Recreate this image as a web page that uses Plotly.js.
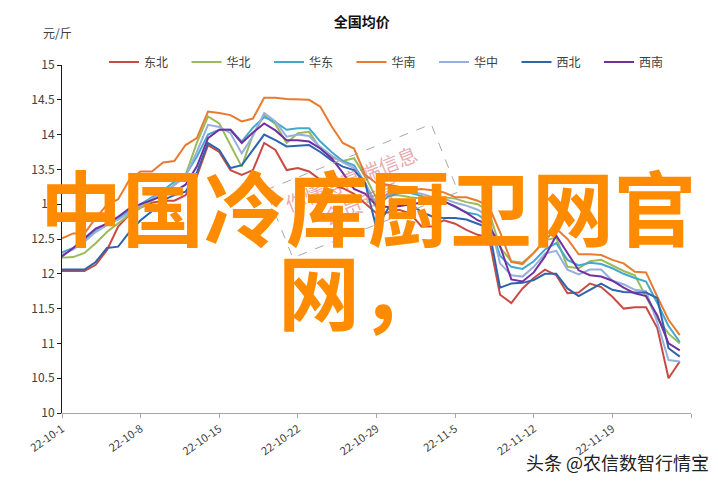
<!DOCTYPE html>
<html><head><meta charset="utf-8">
<script src="https://cdn.plot.ly/plotly-3.0.1.min.js"></script>
<style>html,body{margin:0;padding:0;background:#fff}#chart{width:718px;height:482px}</style>
</head><body><div id="chart"></div>
<script>
// ---- data ----
const startDate = '2022-10-01';
const dayCount = 56;
const tickDates = ['2022-10-01','2022-10-08','2022-10-15','2022-10-22','2022-10-29','2022-11-05','2022-11-12','2022-11-19','2022-11-26'];
const tickLabels = ['22-10-1','22-10-8','22-10-15','22-10-22','22-10-29','22-11-5','22-11-12','22-11-19',''];
const seriesNames = ['东北','华北','华东','华南','华中','西北','西南'];

const dongbei = [12.04,12.04,12.04,12.13,12.34,12.68,12.85,12.95,13.02,13.05,
 13.05,13.13,13.40,13.85,13.75,13.49,13.42,13.49,13.88,13.78,
 13.49,13.52,13.47,13.35,13.28,13.23,13.15,13.01,12.87,12.88,
 12.92,12.87,12.68,12.68,12.77,12.72,12.63,12.56,12.52,11.70,
 11.58,11.79,11.94,12.06,11.98,11.72,11.73,11.86,11.81,11.67,
 11.50,11.52,11.52,11.22,10.50,10.74];
const huabei = [12.23,12.24,12.30,12.44,12.60,12.72,12.85,12.95,13.05,13.15,
 13.28,13.42,13.88,14.26,14.16,13.85,13.54,14.00,14.28,14.15,
 13.88,14.02,14.04,13.80,13.67,13.62,13.66,13.40,13.08,13.13,
 13.13,13.10,13.08,13.06,13.10,13.08,13.03,13.00,12.90,12.38,
 12.18,12.16,12.30,12.48,12.52,12.10,12.08,12.18,12.20,12.12,
 12.04,11.98,11.68,11.36,11.14,11.00];
const huadong = [12.31,12.37,12.49,12.63,12.72,12.80,12.90,13.00,13.10,13.20,
 13.32,13.42,13.68,14.00,14.07,14.07,13.90,14.10,14.25,14.18,
 14.07,14.09,14.09,13.90,13.75,13.62,13.56,13.30,12.95,13.11,
 13.16,13.16,13.12,13.04,13.04,12.96,12.88,12.85,12.75,12.26,
 12.10,12.07,12.18,12.35,12.44,12.20,12.12,12.16,12.14,12.08,
 12.00,11.94,11.89,11.58,11.25,11.02];
const huanan = [12.51,12.58,12.58,12.80,12.99,13.07,13.35,13.47,13.47,13.60,
 13.62,13.85,13.95,14.33,14.31,14.28,14.19,14.23,14.53,14.53,
 14.51,14.51,14.50,14.40,14.12,13.88,13.80,13.42,13.30,13.28,
 13.25,13.20,13.22,13.20,13.17,13.10,13.10,13.05,12.97,12.60,
 12.17,12.14,12.30,12.48,12.65,12.50,12.28,12.28,12.27,12.20,
 12.15,12.03,12.02,11.67,11.34,11.12];
const huazhong = [12.28,12.35,12.46,12.60,12.70,12.78,12.88,12.98,13.08,13.15,
 13.28,13.40,13.75,14.14,14.11,14.02,13.73,13.98,14.31,14.19,
 13.97,14.00,13.98,13.82,13.70,13.60,13.52,13.30,13.00,13.15,
 13.18,13.18,13.15,13.10,13.08,13.02,12.98,12.92,12.82,12.15,
 11.98,11.96,12.10,12.29,12.33,12.06,11.99,12.06,12.06,11.90,
 11.85,11.77,11.75,11.30,10.76,10.74];
const xibei = [12.06,12.06,12.06,12.17,12.37,12.39,12.60,12.77,12.90,13.06,
 13.13,13.18,13.45,13.88,13.78,13.52,13.56,13.78,14.00,13.92,
 13.83,13.84,13.85,13.75,13.63,13.54,13.49,13.30,12.65,12.93,
 12.99,13.00,12.89,12.82,12.80,12.80,12.78,12.72,12.66,11.80,
 11.86,11.87,11.91,12.00,12.00,11.79,11.68,11.77,11.86,11.77,
 11.74,11.73,11.73,11.65,10.93,10.81];
const xinan = [12.25,12.37,12.51,12.65,12.72,12.82,12.94,13.00,13.06,13.11,
 13.18,13.28,13.54,13.95,14.07,14.07,13.88,14.03,14.16,14.06,
 13.92,13.92,13.90,13.80,13.66,13.45,13.22,13.15,12.98,12.96,
 12.97,13.00,13.02,13.07,13.04,12.97,12.88,12.77,12.70,12.40,
 11.92,11.89,12.02,12.25,12.55,12.30,12.05,11.98,11.96,11.90,
 11.80,11.72,11.68,11.40,11.00,10.90];

// ---- styling ----
const colors = ['#C94A45','#9BBB59','#43A9CC','#E97B30','#97AFDD','#2E64AE','#7030A0'];
const seriesValues = [dongbei, huabei, huadong, huanan, huazhong, xibei, xinan];

// dates for the x categories
const dates = [];
(function(){
  const d0 = new Date(startDate + 'T00:00:00Z');
  for (let i = 0; i < dayCount; i++) {
    const d = new Date(d0.getTime() + i * 86400000);
    dates.push(d.toISOString().slice(0,10));
  }
})();

const traces = seriesNames.map((name, i) => ({
  type: 'scatter', mode: 'lines', name: name,
  x: dates, y: seriesValues[i],
  line: {color: colors[i], width: 2},
  hoverinfo: 'skip'
}));

const W = 718, H = 482;
const M = {l: 62, r: 27, t: 65, b: 69, autoexpand: false};
const PW = W - M.l - M.r, PH = H - M.t - M.b;
function px(x){ return (x - M.l) / PW; }
function py(y){ return (H - M.b - y) / PH; }

// dashed watermark stamp box (decoration)
function stampPath(cx, cy, w, h, deg){
  const a = deg * Math.PI / 180, c = Math.cos(a), s = Math.sin(a);
  const pts = [[-w/2,-h/2],[w/2,-h/2],[w/2,h/2],[-w/2,h/2]].map(([u,v]) => [cx + u*c - v*s, cy + u*s + v*c]);
  return 'M ' + pts.map(p => px(p[0]).toFixed(4) + ' ' + py(p[1]).toFixed(4)).join(' L ') + ' Z';
}

const layout = {
  width: W, height: H,
  margin: M,
  paper_bgcolor: '#fff', plot_bgcolor: '#fff',
  font: {family: '"Noto Sans CJK SC", "Noto Sans", sans-serif', size: 12, color: '#404040'},
  title: {text: '<b>全国均价</b>', font: {size: 14, color: '#111'}, x: 0.504, xanchor: 'center', xref: 'container', y: 1 - 22/H, yanchor: 'middle', yref: 'container'},
  showlegend: true,
  legend: {orientation: 'h', xref: 'container', x: 104/W, xanchor: 'left', yref: 'container', y: 1 - 62/H, yanchor: 'middle',
           entrywidth: 37.5, entrywidthmode: 'pixels', itemwidth: 30,
           font: {size: 12, color: '#404040'}, bgcolor: 'rgba(0,0,0,0)', traceorder: 'normal'},
  xaxis: {type: 'date', range: [dates[0], '2022-11-26'], tickmode: 'array', tickvals: tickDates, ticktext: tickLabels,
          tickangle: -35, showgrid: false, zeroline: false, showline: true, linecolor: '#A6A6A6', linewidth: 1.2,
          ticks: 'outside', ticklen: 4, tickcolor: '#A6A6A6', tickfont: {size: 11, color: '#404040'}, fixedrange: true},
  yaxis: {range: [10, 15], dtick: 0.5, tick0: 10, showgrid: false, zeroline: false, showline: true, linecolor: '#1a1a1a', linewidth: 1,
          ticks: 'outside', ticklen: 4, tickcolor: '#1a1a1a', tickfont: {size: 12, color: '#404040'}, fixedrange: true},
  shapes: [
    {type: 'path', xref: 'paper', yref: 'paper', path: stampPath(362, 191, 178, 73, -21.7),
     line: {color: '#A8A8A8', width: 1, dash: 'dash'}, layer: 'above'}
  ],
  annotations: [
    {text: '元/斤', xref: 'paper', yref: 'paper', x: px(57), y: py(33), xanchor: 'center', yanchor: 'middle', showarrow: false, font: {size: 12, color: '#404040'}},
    {text: '你懂得高端信息<br>会员专享', xref: 'paper', yref: 'paper', x: px(356), y: py(190), xanchor: 'center', yanchor: 'middle', showarrow: false, textangle: -22,
     font: {size: 20, color: 'rgba(215,95,105,0.55)'}},
    {text: '<b>中国冷库厨卫网官</b>', xref: 'paper', yref: 'paper', x: px(367.5), y: py(205), xanchor: 'center', yanchor: 'middle', showarrow: false,
     font: {size: 82, color: '#FF8C00'}},
    {text: '<b>网，</b>', xref: 'paper', yref: 'paper', x: px(360), y: py(288), xanchor: 'center', yanchor: 'middle', showarrow: false,
     font: {size: 82, color: '#FF8C00'}},
    {text: '头条 @农信数智行情宝', xref: 'paper', yref: 'paper', x: px(617), y: py(462), xanchor: 'center', yanchor: 'middle', showarrow: false,
     font: {size: 18, color: '#222'}}
  ]
};

Plotly.newPlot('chart', traces, layout, {displayModeBar: false, staticPlot: true});
</script>
</body></html>
